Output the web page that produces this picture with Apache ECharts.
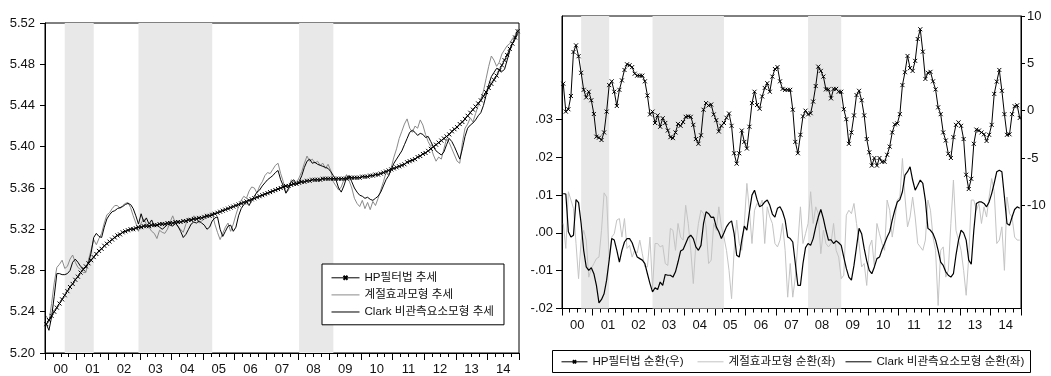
<!DOCTYPE html>
<html>
<head>
<meta charset="utf-8">
<script src="https://cdn.jsdelivr.net/npm/echarts@6/dist/echarts.min.js"></script>
<style>
  html, body { margin: 0; padding: 0; background: #fff; }
  #chart { width: 1051px; height: 376px; }
</style>
</head>
<body>
<div id="chart"></div>
<script>
// Monthly series, January 2000 through December 2014 (180 months)
const startYear = 2000;
const yearLabels = ['00','01','02','03','04','05','06','07','08','09','10','11','12','13','14'];

// Business-cycle contraction periods (peak month, trough month)
const recessions = [['2000-08', '2001-07'], ['2002-12', '2005-04'], ['2008-01', '2009-02']];

// Trend estimates (log level)
const trendHP = [
  5.228,5.232,5.236,5.240,5.244,5.248,5.252,5.256,5.260,5.264,5.267,5.271,
  5.274,5.278,5.281,5.284,5.287,5.290,5.293,5.296,5.299,5.301,5.304,5.306,
  5.308,5.310,5.312,5.314,5.315,5.317,5.318,5.319,5.320,5.320,5.321,5.322,
  5.322,5.323,5.323,5.323,5.324,5.324,5.324,5.325,5.325,5.325,5.326,5.326,
  5.326,5.327,5.327,5.327,5.328,5.328,5.329,5.329,5.330,5.330,5.331,5.331,
  5.332,5.333,5.333,5.334,5.335,5.336,5.337,5.338,5.339,5.340,5.341,5.342,
  5.343,5.344,5.345,5.346,5.347,5.348,5.349,5.350,5.351,5.352,5.353,5.354,
  5.355,5.356,5.357,5.358,5.359,5.360,5.361,5.362,5.362,5.363,5.364,5.364,
  5.365,5.366,5.366,5.367,5.367,5.368,5.368,5.368,5.368,5.369,5.369,5.369,
  5.369,5.369,5.369,5.369,5.369,5.369,5.369,5.370,5.370,5.370,5.370,5.370,
  5.371,5.371,5.371,5.372,5.372,5.373,5.373,5.374,5.375,5.376,5.377,5.378,
  5.379,5.380,5.381,5.382,5.383,5.385,5.386,5.387,5.388,5.390,5.391,5.393,
  5.394,5.396,5.398,5.400,5.402,5.404,5.406,5.408,5.410,5.412,5.415,5.417,
  5.419,5.422,5.424,5.427,5.430,5.433,5.436,5.439,5.442,5.445,5.449,5.453,
  5.457,5.461,5.465,5.469,5.474,5.479,5.484,5.489,5.495,5.500,5.506,5.512
];
const trendSeasonal = [
  5.236,5.230,5.248,5.268,5.283,5.286,5.290,5.282,5.284,5.291,5.295,5.288,
  5.283,5.281,5.278,5.278,5.290,5.300,5.310,5.305,5.311,5.316,5.326,5.334,
  5.336,5.340,5.343,5.343,5.340,5.343,5.345,5.346,5.341,5.333,5.326,5.318,
  5.326,5.330,5.325,5.322,5.318,5.316,5.311,5.319,5.317,5.316,5.320,5.327,
  5.333,5.326,5.322,5.320,5.317,5.325,5.331,5.329,5.333,5.331,5.326,5.328,
  5.330,5.332,5.334,5.336,5.325,5.317,5.310,5.316,5.322,5.326,5.318,5.325,
  5.334,5.342,5.348,5.352,5.350,5.357,5.361,5.360,5.355,5.362,5.366,5.372,
  5.375,5.374,5.378,5.382,5.384,5.374,5.366,5.355,5.358,5.368,5.366,5.365,
  5.370,5.376,5.384,5.391,5.386,5.388,5.384,5.386,5.382,5.384,5.379,5.383,
  5.377,5.366,5.362,5.358,5.361,5.368,5.373,5.367,5.360,5.350,5.345,5.342,
  5.348,5.340,5.346,5.339,5.347,5.343,5.350,5.358,5.366,5.375,5.372,5.380,
  5.390,5.398,5.408,5.415,5.422,5.427,5.418,5.414,5.420,5.418,5.426,5.421,
  5.412,5.405,5.400,5.392,5.386,5.390,5.388,5.398,5.408,5.404,5.398,5.392,
  5.386,5.384,5.404,5.418,5.422,5.428,5.424,5.432,5.440,5.446,5.454,5.466,
  5.478,5.488,5.484,5.478,5.482,5.490,5.494,5.498,5.500,5.505,5.508,5.514
];
const trendClark = [
  5.228,5.222,5.235,5.255,5.277,5.277,5.276,5.276,5.277,5.280,5.288,5.291,
  5.288,5.284,5.282,5.283,5.287,5.297,5.312,5.316,5.313,5.312,5.322,5.330,
  5.334,5.337,5.338,5.340,5.341,5.342,5.344,5.345,5.344,5.340,5.333,5.325,
  5.335,5.327,5.331,5.325,5.329,5.323,5.324,5.322,5.320,5.322,5.325,5.324,
  5.323,5.326,5.323,5.318,5.312,5.315,5.320,5.325,5.327,5.326,5.328,5.326,
  5.324,5.320,5.322,5.328,5.331,5.332,5.320,5.313,5.318,5.323,5.324,5.318,
  5.322,5.333,5.340,5.344,5.346,5.343,5.348,5.352,5.356,5.358,5.362,5.365,
  5.368,5.370,5.372,5.375,5.377,5.368,5.362,5.355,5.360,5.366,5.368,5.364,
  5.366,5.372,5.380,5.386,5.388,5.384,5.385,5.383,5.382,5.381,5.380,5.379,
  5.376,5.372,5.368,5.360,5.356,5.362,5.370,5.372,5.366,5.360,5.356,5.353,
  5.352,5.350,5.351,5.349,5.348,5.350,5.352,5.356,5.362,5.368,5.372,5.378,
  5.384,5.388,5.392,5.396,5.402,5.408,5.414,5.416,5.414,5.411,5.413,5.412,
  5.409,5.410,5.405,5.400,5.396,5.394,5.392,5.395,5.402,5.408,5.405,5.400,
  5.394,5.388,5.398,5.410,5.418,5.421,5.423,5.426,5.430,5.433,5.440,5.450,
  5.460,5.468,5.472,5.476,5.475,5.473,5.475,5.484,5.493,5.500,5.504,5.510
];

// Cycle estimates: HP on the right scale, the other two on the left scale
const cycleHP = [
  2.85,-0.1,0.15,1.55,6.2,6.9,5.75,4.0,2.2,1.4,2.0,1.1,
  -0.35,-2.75,-2.85,-3.1,-2.3,-0.1,2.7,3.1,2.0,0.5,2.2,3.2,
  4.3,4.9,4.8,4.6,3.9,3.7,3.7,3.7,3.1,1.6,-0.4,-0.1,
  -1.3,-0.5,-1.7,-0.8,-1.3,-2.1,-2.8,-2.9,-2.3,-1.4,-1.6,-1.2,
  -0.65,-0.6,-0.65,-1.5,-3.0,-3.5,-2.6,0.1,0.8,0.55,0.65,-0.4,
  -1.0,-2.2,-1.6,-1.3,-0.75,-0.3,-1.6,-4.5,-5.6,-4.5,-2.1,-3.3,
  -4.0,-1.7,0.8,2.0,0.6,0.2,1.5,2.4,2.9,2.0,3.6,4.4,
  4.6,3.1,2.3,2.2,2.2,2.2,0.1,-3.3,-4.5,-2.55,-0.6,0.0,
  -0.4,-0.27,0.96,2.6,4.65,4.2,3.6,2.25,2.25,1.3,2.3,2.3,
  2.0,2.0,0.15,-0.9,-3.5,-2.3,-0.5,1.65,2.1,1.1,-0.5,-3.0,
  -4.4,-5.8,-5.0,-5.8,-5.0,-5.4,-5.4,-4.66,-3.8,-2.3,-1.45,-1.35,
  -0.37,2.7,4.06,5.78,4.5,4.2,5.26,7.57,8.6,6.23,3.35,4.0,
  4.1,3.1,2.25,0.35,-0.37,-2.3,-3.15,-4.55,-5.0,-2.8,-1.5,-1.24,
  -1.6,-3.0,-6.77,-8.28,-7.2,-3.5,-2.0,-2.1,-2.3,-2.5,-3.2,-2.55,
  -1.5,1.77,3.07,4.3,2.1,-0.37,-2.55,-2.5,-0.37,0.47,0.57,-0.77
];
const cycleSeasonal = [
  0.0025,-0.0041,0.0109,0.0087,0.0065,-0.0028,-0.0121,-0.0019,0.0007,-0.0019,-0.0117,-0.0094,
  -0.0081,-0.0068,-0.0064,0.0007,0.0106,0.0095,-0.0068,-0.0011,-0.0002,0.0034,0.0038,-0.0011,
  0.0038,-0.0041,-0.0033,-0.0064,-0.0046,-0.0053,-0.0019,-0.0055,-0.0090,-0.0090,-0.0011,-0.0147,
  -0.0028,-0.0028,-0.0037,-0.0033,-0.0081,-0.0086,0.0012,0.0007,-0.0046,0.0025,-0.0011,-0.0019,
  0.0073,0.0025,-0.0046,-0.0134,-0.0028,0.0025,0.0060,0.0051,0.0016,-0.0081,-0.0072,0.0025,
  0.0007,0.0069,0.0016,-0.0011,-0.0046,-0.0099,-0.0174,-0.0046,0.0034,-0.0028,-0.0046,0.0025,
  0.0131,0.0060,-0.0028,0.0060,0.0078,0.0069,0.0087,-0.0028,0.0069,0.0042,0.0025,-0.0028,
  -0.0037,-0.0019,0.0025,-0.0046,-0.0170,-0.0081,-0.0170,-0.0117,-0.0028,0.0069,-0.0028,-0.0002,
  0.0025,0.0109,0.0025,0.0069,0.0051,-0.0055,0.0007,-0.0028,-0.0037,-0.0028,0.0025,-0.0046,
  -0.0064,-0.0121,-0.0112,0.0047,0.0060,0.0051,0.0078,0.0025,-0.0028,-0.0090,-0.0081,-0.0139,
  -0.0037,-0.0019,-0.0090,0.0025,-0.0002,-0.0028,-0.0046,0.0087,0.0060,-0.0011,0.0034,0.0087,
  0.0095,0.0197,0.0095,0.0016,0.0042,0.0095,0.0042,-0.0028,-0.0037,-0.0046,-0.0019,0.0087,
  0.0060,-0.0011,-0.0046,-0.0192,-0.0046,-0.0037,-0.0117,-0.0099,0.0025,0.0140,0.0007,-0.0019,
  -0.0046,-0.0099,-0.0165,-0.0064,0.0087,0.0087,0.0060,0.0078,0.0025,0.0069,0.0042,0.0095,
  0.0144,0.0109,-0.0028,-0.0019,0.0016,-0.0099,0.0095,0.0051,0.0042,-0.0011,-0.0019,-0.0019
];
const cycleClark = [
  0.0104,0.0103,0.0003,-0.0011,-0.0006,0.0088,0.0080,0.0025,-0.0046,-0.0090,-0.0099,-0.0092,
  -0.0108,-0.0139,-0.0185,-0.0176,-0.0161,-0.0125,-0.0072,-0.0015,-0.0019,-0.0046,-0.0077,-0.0046,
  -0.0024,-0.0015,-0.0015,-0.0026,-0.0046,-0.0064,-0.0068,-0.0072,-0.0081,-0.0108,-0.0134,-0.0156,
  -0.0145,-0.0150,-0.0130,-0.0139,-0.0110,-0.0112,-0.0112,-0.0117,-0.0103,-0.0077,-0.0048,-0.0044,
  -0.0028,-0.0012,-0.0006,-0.0015,-0.0037,-0.0046,-0.0033,0.0025,0.0056,0.0051,0.0041,0.0042,
  0.0016,0.0003,-0.0015,0.0000,0.0016,0.0026,0.0032,-0.0002,-0.0059,-0.0064,-0.0019,0.0018,
  0.0007,0.0056,0.0100,0.0113,0.0088,0.0069,0.0073,0.0082,0.0087,0.0073,0.0050,0.0042,
  0.0065,0.0069,0.0056,0.0034,-0.0011,-0.0015,-0.0024,-0.0081,-0.0139,-0.0139,-0.0081,-0.0039,
  -0.0028,-0.0033,-0.0015,0.0016,0.0042,0.0062,0.0038,0.0007,-0.0019,-0.0018,-0.0028,-0.0021,
  -0.0026,-0.0033,-0.0064,-0.0094,-0.0117,-0.0125,-0.0086,-0.0037,0.0012,-0.0002,-0.0041,-0.0074,
  -0.0099,-0.0108,-0.0090,-0.0068,-0.0064,-0.0044,-0.0028,-0.0011,0.0003,0.0034,0.0060,0.0082,
  0.0088,0.0109,0.0153,0.0162,0.0175,0.0140,0.0113,0.0126,0.0140,0.0131,0.0087,0.0012,
  0.0007,-0.0002,-0.0019,-0.0046,-0.0077,-0.0086,-0.0103,-0.0112,-0.0117,-0.0108,-0.0059,-0.0019,
  0.0007,0.0000,-0.0019,-0.0072,-0.0083,0.0007,0.0078,0.0082,0.0082,0.0078,0.0069,0.0082,
  0.0104,0.0132,0.0162,0.0166,0.0162,0.0095,0.0025,0.0020,0.0042,0.0062,0.0069,0.0065
];

const leftTicks = [5.20, 5.24, 5.28, 5.32, 5.36, 5.40, 5.44, 5.48, 5.52];
const rightLeftTicks = [-0.02, -0.01, 0, 0.01, 0.02, 0.03];
const rightRightTicks = [-10, -5, 0, 5, 10];

const FONT = '"Liberation Sans", "Noto Sans CJK KR", Arial, sans-serif';
const INK = '#111';

// month index -> position on the time axis (each month occupies one unit)
const pos = i => i + 0.5;
const monthPos = s => {
  const [y, m] = s.split('-').map(Number);
  return pos((y - startYear) * 12 + (m - 1));
};
const toPairs = arr => arr.map((v, i) => [pos(i), v]);
const bandData = recessions.map(([a, b]) => [{ xAxis: monthPos(a) }, { xAxis: monthPos(b) }]);

const CROSS = 'path://M0,0L10,10M10,0L0,10';

function timeAxis(gridIndex) {
  return {
    type: 'value', gridIndex, min: 0, max: yearLabels.length * 12, interval: 12,
    axisLine: { onZero: false, lineStyle: { color: '#000', width: 1 } },
    axisTick: { inside: false, length: 7, lineStyle: { color: '#000', width: 1 } },
    minorTick: { show: true, splitNumber: 4, length: 4, lineStyle: { color: '#000', width: 1 } },
    splitLine: { show: false }, minorSplitLine: { show: false },
    axisLabel: {
      customValues: yearLabels.map((_, k) => 12 * k + 6),
      formatter: v => yearLabels[Math.round((v - 6) / 12)],
      margin: 10, fontSize: 13, color: INK, fontFamily: FONT
    }
  };
}

const fmtSmall = v => {
  const s = Math.abs(v).toFixed(2).replace(/^0/, '');
  return (v < -1e-9 ? '-' : '') + s;
};

const legendText = { fontSize: 11.6, color: INK, fontFamily: FONT };
const noSymbol = { opacity: 0 };
const legendLine = { width: 1 };

const option = {
  backgroundColor: '#fff',
  animation: false,
  textStyle: { fontFamily: FONT },
  grid: [
    { left: 45, top: 23, width: 474, height: 330, show: true, borderColor: '#000', borderWidth: 1, backgroundColor: 'transparent' },
    { left: 562, top: 16, width: 459, height: 292.5, show: true, borderColor: '#000', borderWidth: 1, backgroundColor: 'transparent' }
  ],
  xAxis: [timeAxis(0), timeAxis(1)],
  yAxis: [
    {
      type: 'value', gridIndex: 0, min: 5.20, max: 5.52,
      axisLine: { show: true, onZero: false, lineStyle: { color: '#000' } },
      axisTick: { show: true, length: 5, customValues: leftTicks, lineStyle: { color: '#000' } },
      splitLine: { show: false },
      axisLabel: { customValues: leftTicks, formatter: v => v.toFixed(2), margin: 10, fontSize: 13, color: INK, fontFamily: FONT }
    },
    {
      type: 'value', gridIndex: 1, position: 'left', min: -0.02, max: 0.0574,
      axisLine: { show: true, onZero: false, lineStyle: { color: '#000' } },
      axisTick: { show: true, length: 6, customValues: rightLeftTicks, lineStyle: { color: '#000' } },
      splitLine: { show: false },
      axisLabel: { customValues: rightLeftTicks, formatter: fmtSmall, margin: 9, fontSize: 13, color: INK, fontFamily: FONT }
    },
    {
      type: 'value', gridIndex: 1, position: 'right', min: -20.9, max: 10,
      axisLine: { show: true, onZero: false, lineStyle: { color: '#000' } },
      axisTick: { show: true, length: 4, customValues: rightRightTicks, lineStyle: { color: '#000' } },
      splitLine: { show: false },
      axisLabel: { customValues: rightRightTicks, formatter: v => String(v), margin: 6, fontSize: 13, color: INK, fontFamily: FONT }
    }
  ],
  legend: [
    {
      data: [
        { name: 'HP필터법 추세' },
        { name: '계절효과모형 추세', itemStyle: noSymbol },
        { name: 'Clark 비관측요소모형 추세', itemStyle: noSymbol }
      ],
      orient: 'vertical', left: 322, top: 264,
      itemWidth: 28, itemHeight: 5, itemGap: 5.5,
      padding: [8, 10, 7, 9],
      borderColor: '#000', borderWidth: 1, backgroundColor: '#fff',
      lineStyle: legendLine,
      textStyle: legendText, selectedMode: false
    },
    {
      data: [{ name: 'HP필터법 순환(우)' }], left: 561, top: 356, padding: 0,
      itemWidth: 26, itemHeight: 4, lineStyle: legendLine, textStyle: legendText, selectedMode: false
    },
    {
      data: [{ name: '계절효과모형 순환(좌)', itemStyle: noSymbol }], left: 697, top: 356, padding: 0,
      itemWidth: 26, itemHeight: 4, lineStyle: legendLine, textStyle: legendText, selectedMode: false
    },
    {
      data: [{ name: 'Clark 비관측요소모형 순환(좌)', itemStyle: noSymbol }], left: 845, top: 356, padding: 0,
      itemWidth: 26, itemHeight: 4, lineStyle: legendLine, textStyle: legendText, selectedMode: false
    }
  ],
  graphic: [
    { type: 'rect', shape: { x: 552.5, y: 350.5, width: 478, height: 22 }, style: { fill: 'none', stroke: '#000', lineWidth: 1 }, silent: true }
  ],
  series: [
    {
      name: 'HP필터법 추세', type: 'line', xAxisIndex: 0, yAxisIndex: 0,
      data: toPairs(trendHP), symbol: CROSS, symbolSize: 4, showAllSymbol: true,
      lineStyle: { color: '#000', width: 1 },
      itemStyle: { color: '#000', borderColor: '#000', borderWidth: 1 },
      z: 3, silent: true,
      markArea: { silent: true, itemStyle: { color: '#e8e8e8' }, data: bandData }
    },
    {
      name: '계절효과모형 추세', type: 'line', xAxisIndex: 0, yAxisIndex: 0,
      data: toPairs(trendSeasonal), symbol: 'none',
      lineStyle: { color: '#8a8a8a', width: 1 }, itemStyle: { color: '#8a8a8a' }, z: 2, silent: true
    },
    {
      name: 'Clark 비관측요소모형 추세', type: 'line', xAxisIndex: 0, yAxisIndex: 0,
      data: toPairs(trendClark), symbol: 'none',
      lineStyle: { color: '#000', width: 1 }, itemStyle: { color: '#000' }, z: 3, silent: true
    },
    {
      name: 'HP필터법 순환(우)', type: 'line', xAxisIndex: 1, yAxisIndex: 2,
      data: toPairs(cycleHP), symbol: CROSS, symbolSize: 4, showAllSymbol: true,
      lineStyle: { color: '#000', width: 1 },
      itemStyle: { color: '#000', borderColor: '#000', borderWidth: 1 },
      z: 3, silent: true,
      markArea: { silent: true, itemStyle: { color: '#e8e8e8' }, data: bandData }
    },
    {
      name: '계절효과모형 순환(좌)', type: 'line', xAxisIndex: 1, yAxisIndex: 1,
      data: toPairs(cycleSeasonal), symbol: 'none',
      lineStyle: { color: '#c4c4c4', width: 1 }, itemStyle: { color: '#c4c4c4' }, z: 2, silent: true
    },
    {
      name: 'Clark 비관측요소모형 순환(좌)', type: 'line', xAxisIndex: 1, yAxisIndex: 1,
      data: toPairs(cycleClark), symbol: 'none',
      lineStyle: { color: '#000', width: 1.2 }, itemStyle: { color: '#000' }, z: 3, silent: true
    }
  ]
};

const chart = echarts.init(document.getElementById('chart'), null, { renderer: 'canvas' });
chart.setOption(option);
</script>
</body>
</html>
